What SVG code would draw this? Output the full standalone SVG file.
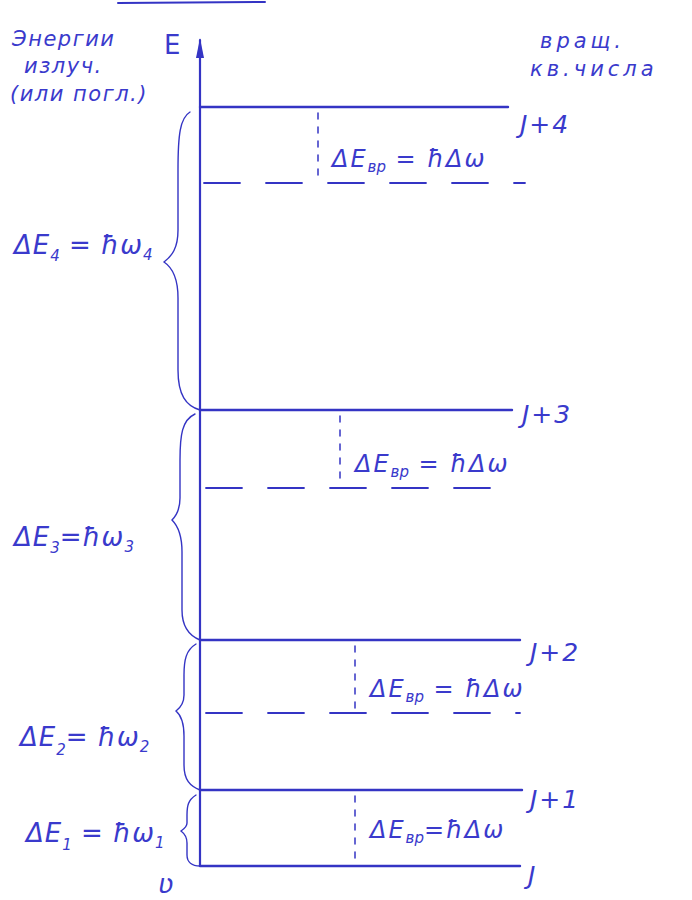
<svg xmlns="http://www.w3.org/2000/svg" width="692" height="900" viewBox="0 0 692 900">
<style>
.ink{stroke:#3434c4;fill:none;stroke-linecap:round}
.lvl{stroke-width:2.4}
.dash{stroke-width:1.8;stroke-dasharray:36 26}
.vd{stroke-width:1.5;stroke-dasharray:6 8}
.br{stroke-width:1.4}
text{fill:#3a3acc;font-family:"DejaVu Sans",sans-serif;font-style:italic}
.t{font-size:24px;letter-spacing:2px}
.l{font-size:26px;letter-spacing:1px}
.n{font-size:21px;letter-spacing:1.5px}
.r{font-size:21px;letter-spacing:4px}
.j{font-size:25px;letter-spacing:2px}
.s{font-size:15px;letter-spacing:0}
</style>
<rect width="692" height="900" fill="#ffffff"/>

<g id="top-fragment"><path class="ink" d="M118,3 L265,2" stroke-width="2"/></g>

<g id="axis">
<path class="ink" d="M200,866 L200,40" stroke-width="2.2"/>
<path d="M196,58 L200,38 L204,58 Z" fill="#3434c4"/>
<text x="164" y="54" style="font-size:26px;font-style:normal">E</text>
</g>

<g id="axis-title">
<text class="n" x="12" y="46">Энергии</text>
<text class="n" x="24" y="73">излуч.</text>
<text class="n" x="10" y="101">(или погл.)</text>
</g>

<g id="quantum-title">
<text class="r" x="540" y="48">вращ.</text>
<text class="r" x="530" y="76">кв.числа</text>
</g>

<g id="connectors">
<path class="ink lvl" d="M200,107 L508,107"/>
<path class="ink lvl" d="M200,410 L512,410"/>
<path class="ink lvl" d="M200,640 L520,640"/>
<path class="ink lvl" d="M200,790 L522,790"/>
<path class="ink lvl" d="M200,866 L520,866"/>
<path class="ink dash" d="M204,183 L525,183"/>
<path class="ink dash" d="M206,488 L505,488"/>
<path class="ink dash" d="M206,713 L520,713"/>
<path class="ink vd" d="M318,113 L318,183"/>
<path class="ink vd" d="M340,416 L340,486"/>
<path class="ink vd" d="M355,646 L355,711"/>
<path class="ink vd" d="M355,796 L355,862"/>
<path class="ink br" d="M190,112 C180,118 178,135 178,170 L178,230 C178,248 172,256 164,262 C173,268 178,278 178,298 L178,370 C178,395 186,406 200,410"/>
<path class="ink br" d="M195,414 C182,420 180,435 180,460 L180,498 C180,510 176,516 172,520 C178,526 182,536 182,552 L182,610 C182,628 190,636 200,640"/>
<path class="ink br" d="M196,644 C186,650 184,660 184,675 L184,695 C184,704 180,708 176,711 C182,716 184,724 184,736 L184,765 C184,780 190,786 200,790"/>
<path class="ink br" d="M196,795 C188,800 187,806 187,815 L187,823 C187,827 184,829 181,831 C185,834 187,838 187,843 L187,855 C187,862 192,866 200,866"/>
</g>

<g id="level-J4">
<text class="j" x="520" y="133">J+4</text>
<text class="t" x="332" y="167">ΔE<tspan class="s" dy="5">вр</tspan><tspan dy="-5"> = ħΔω</tspan></text>
<text class="l" x="14" y="254">ΔE<tspan class="s" dy="7">4</tspan><tspan dy="-7"> = ħω</tspan><tspan class="s" dy="6">4</tspan></text>
</g>

<g id="level-J3">
<text class="j" x="522" y="423">J+3</text>
<text class="t" x="355" y="472">ΔE<tspan class="s" dy="5">вр</tspan><tspan dy="-5"> = ħΔω</tspan></text>
<text class="l" x="14" y="546">ΔE<tspan class="s" dy="7">3</tspan><tspan dy="-7">=ħω</tspan><tspan class="s" dy="6">3</tspan></text>
</g>

<g id="level-J2">
<text class="j" x="530" y="661">J+2</text>
<text class="t" x="370" y="697">ΔE<tspan class="s" dy="5">вр</tspan><tspan dy="-5"> = ħΔω</tspan></text>
<text class="l" x="20" y="746">ΔE<tspan class="s" dy="9">2</tspan><tspan dy="-9">= ħω</tspan><tspan class="s" dy="6">2</tspan></text>
</g>

<g id="level-J1">
<text class="j" x="530" y="808">J+1</text>
<text class="t" x="370" y="838">ΔE<tspan class="s" dy="5">вр</tspan><tspan dy="-5">=ħΔω</tspan></text>
<text class="l" x="26" y="842">ΔE<tspan class="s" dy="8">1</tspan><tspan dy="-8"> = ħω</tspan><tspan class="s" dy="6">1</tspan></text>
</g>

<g id="level-J">
<text class="j" x="528" y="884">J</text>
<text class="l" x="158" y="893">ʋ</text>
</g>
</svg>
